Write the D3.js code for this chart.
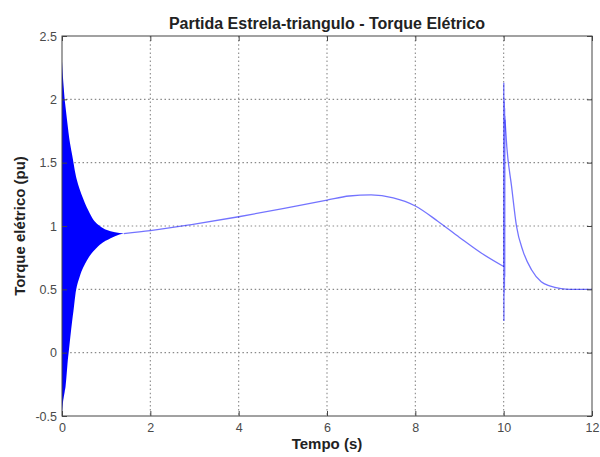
<!DOCTYPE html>
<html>
<head>
<meta charset="utf-8">
<script src="https://cdn.jsdelivr.net/npm/d3@7"></script>
<style>
  body { margin: 0; background: #fff; }
  text { font-family: "Liberation Sans", Arial, sans-serif; }
</style>
</head>
<body>
<svg id="chart" width="600" height="457"></svg>
<script>
// Axis ticks
const xTicks = [0, 2, 4, 6, 8, 10, 12];
const yTicks = [-0.5, 0, 0.5, 1, 1.5, 2, 2.5];
const yTickLabels = ["-0.5", "0", "0.5", "1", "1.5", "2", "2.5"];

// Star connection start: envelope of the fast torque oscillation
const bandTime  = [0, 0.02, 0.04, 0.06, 0.08, 0.14, 0.15, 0.23, 0.26, 0.3, 0.4, 0.44, 0.52, 0.6, 0.71, 0.82, 0.97, 1.0, 1.2, 1.4];
const bandUpper = [2.3, 2.18, 2.09, 2.0, 1.94, 1.76, 1.73, 1.56, 1.5, 1.42, 1.29, 1.25, 1.18, 1.12, 1.05, 1.01, 0.975, 0.97, 0.95, 0.94];
const bandLower = [-0.48, -0.4, -0.35, -0.31, -0.27, -0.03, 0.0, 0.25, 0.33, 0.45, 0.6, 0.64, 0.7, 0.75, 0.8, 0.84, 0.88, 0.885, 0.92, 0.94];

// Running in star: torque follows the load
const runTime   = [1.4, 2, 3, 4, 5, 6, 6.5, 7, 7.5, 8, 8.5, 9, 9.5, 10];
const runTorque = [0.94, 0.963, 1.015, 1.073, 1.137, 1.205, 1.237, 1.245, 1.222, 1.158, 1.04, 0.91, 0.785, 0.68];

// Switch to delta at t = 10 s: short transient burst
const burstTime   = [10.0, 10.003, 10.006, 10.009, 10.012, 10.015, 10.018, 10.021, 10.024, 10.027, 10.03];
const burstTorque = [0.68, 2.13, 0.25, 2.01, 0.47, 1.98, 0.52, 1.93, 0.6, 1.87, 1.84];

// Decay towards the delta steady state
const decayTime   = [10.03, 10.07, 10.18, 10.29, 10.44, 10.63, 10.85, 11.04, 11.3, 11.5, 12];
const decayTorque = [1.84, 1.63, 1.31, 1.0, 0.80, 0.655, 0.56, 0.527, 0.505, 0.5, 0.5];

const svg = d3.select("#chart");
const x = d3.scaleLinear().domain([0, 12]).range([62, 592]);
const y = d3.scaleLinear().domain([-0.5, 2.5]).range([416, 36]);

// Dotted grid
const grid = svg.append("g")
  .attr("stroke", "#8a8a8a").attr("stroke-width", 1.1)
  .attr("stroke-dasharray", "1.5,2.6");
grid.selectAll(".gx").data(xTicks.slice(1, -1)).join("line")
  .attr("x1", d => x(d)).attr("x2", d => x(d))
  .attr("y1", y(2.5)).attr("y2", y(-0.5));
grid.selectAll(".gy").data(yTicks.slice(1, -1)).join("line")
  .attr("x1", x(0)).attr("x2", x(12))
  .attr("y1", d => y(d)).attr("y2", d => y(d));

// Oscillation band
const band = bandTime.map((t, i) => ({ t, hi: bandUpper[i], lo: bandLower[i] }));
svg.append("path").datum(band)
  .attr("fill", "#0000ff")
  .attr("d", d3.area().x(d => x(d.t)).y0(d => y(d.lo)).y1(d => y(d.hi)).curve(d3.curveMonotoneX));

const toPts = (ts, vs) => ts.map((t, i) => ({ t, v: vs[i] }));
const smooth = d3.line().x(d => x(d.t)).y(d => y(d.v)).curve(d3.curveMonotoneX);
const straight = d3.line().x(d => x(d.t)).y(d => y(d.v));

const traces = [
  { pts: toPts(runTime, runTorque), gen: smooth },
  { pts: toPts(burstTime, burstTorque), gen: straight },
  { pts: toPts(decayTime, decayTorque), gen: smooth }
];
svg.selectAll(".trace").data(traces).join("path")
  .attr("fill", "none").attr("stroke", "#0000ff").attr("stroke-opacity", 0.55).attr("stroke-width", 1.3)
  .attr("d", d => d.gen(d.pts));

// Axes with inward ticks
svg.append("g").attr("transform", `translate(0,${y(-0.5)})`)
  .call(d3.axisBottom(x).tickValues(xTicks).tickFormat(d3.format("d")).tickSizeInner(-5).tickSizeOuter(0).tickPadding(7));
svg.append("g").attr("transform", `translate(${x(0)},0)`)
  .call(d3.axisLeft(y).tickValues(yTicks).tickFormat((d, i) => yTickLabels[i]).tickSizeInner(-5).tickSizeOuter(0).tickPadding(5));
svg.append("g").attr("transform", `translate(0,${y(2.5)})`)
  .call(d3.axisTop(x).tickValues(xTicks).tickFormat("").tickSizeInner(-5).tickSizeOuter(0));
svg.append("g").attr("transform", `translate(${x(12)},0)`)
  .call(d3.axisRight(y).tickValues(yTicks).tickFormat("").tickSizeInner(-5).tickSizeOuter(0));

svg.selectAll(".domain").remove();
svg.selectAll(".tick line").attr("stroke", "#444");
svg.selectAll(".tick text").attr("fill", "#4a4a4a").attr("font-size", 12.5)
  .attr("font-family", "'Liberation Sans', Arial, sans-serif");

// Plot box
svg.append("rect")
  .attr("x", x(0)).attr("y", y(2.5))
  .attr("width", x(12) - x(0)).attr("height", y(-0.5) - y(2.5))
  .attr("fill", "none").attr("stroke", "#444").attr("stroke-width", 1);

// Labels
svg.append("text").attr("x", (x(0) + x(12)) / 2).attr("y", 29)
  .attr("text-anchor", "middle").attr("font-size", 16).attr("font-weight", "bold").attr("fill", "#222")
  .text("Partida Estrela-triangulo - Torque Elétrico");
svg.append("text").attr("x", (x(0) + x(12)) / 2).attr("y", 449)
  .attr("text-anchor", "middle").attr("font-size", 15).attr("font-weight", "bold").attr("fill", "#222")
  .text("Tempo (s)");
svg.append("text").attr("transform", `translate(25,${(y(2.5) + y(-0.5)) / 2}) rotate(-90)`)
  .attr("text-anchor", "middle").attr("font-size", 15).attr("font-weight", "bold").attr("fill", "#222")
  .text("Torque elétrico (pu)");
</script>
</body>
</html>
